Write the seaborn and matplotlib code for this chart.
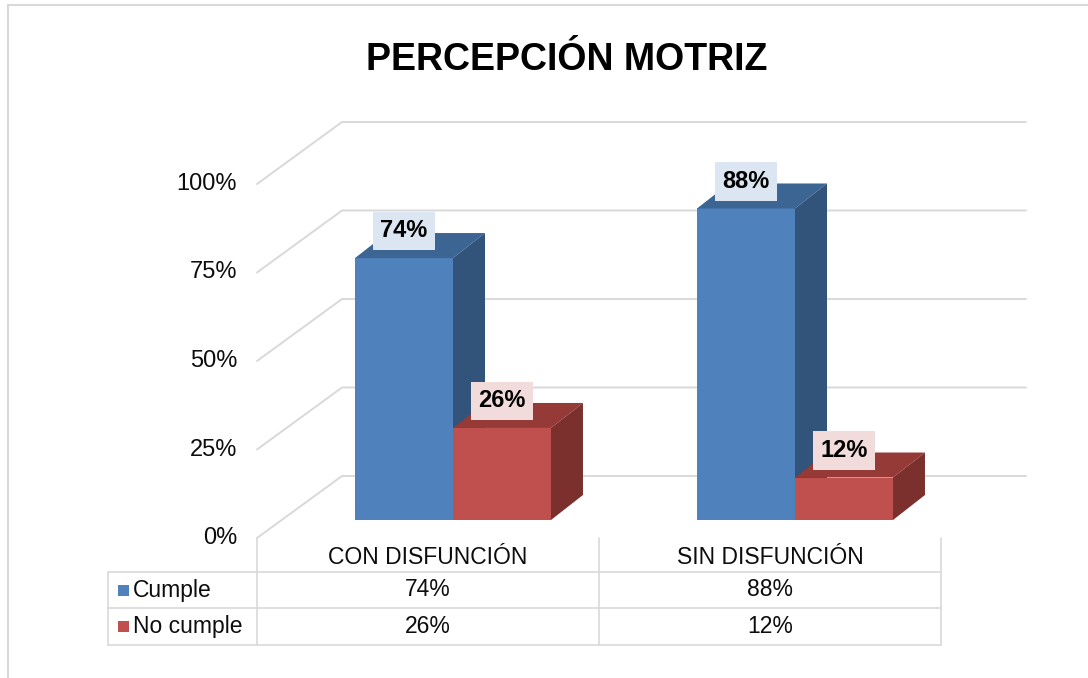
import matplotlib
matplotlib.use("Agg")
import pandas as pd
import matplotlib.pyplot as plt
from matplotlib.patches import Polygon, Rectangle
from matplotlib.lines import Line2D
import seaborn as sns

# -----------------------------
# Datos
# -----------------------------
grupos = ["CON DISFUNCIÓN", "SIN DISFUNCIÓN"]
series = ["Cumple", "No cumple"]
cumple = [74, 88]
no_cumple = [26, 12]
ticks_y = [0, 25, 50, 75, 100]

colores = ["#4f81bd", "#c0504d"]
colores_top = ["#3c6594", "#953a37"]
colores_lado = ["#32537a", "#7b302e"]
fondo_etiqueta = ["#dce6f2", "#f2dcdb"]
gris = "#d9d9d9"
texto = "#0d0d0d"

sns.set_theme(style="white")
plt.rcParams["font.family"] = ["Liberation Sans", "DejaVu Sans"]

df = pd.DataFrame({
    "grupo": grupos * 2,
    "serie": [series[0]] * len(grupos) + [series[1]] * len(grupos),
    "valor": cumple + no_cumple,
})

# -----------------------------
# Figura y escala (pixeles)
# -----------------------------
W, H = 1088, 678
fig = plt.figure(figsize=(W / 100, H / 100), dpi=100)
fig.patch.set_facecolor("white")


def fx(px):
    return px / W


def fy(py):
    return 1 - py / H


ax = fig.add_axes([fx(100), fy(545), 940 / W, 435 / H])

PX_X = 342.0   # px por unidad de categoria
PX_Y = 3.54    # px por punto porcentual
X0, Y0 = 453, 520  # categoria 0 y 0% en el plano frontal de las barras

# desplazamientos de profundidad (en unidades de datos)
FRONT = (-25 / PX_X, -18 / PX_Y)
BACK = (60 / PX_X, 44 / PX_Y)
DEPTH = (32 / PX_X, 25 / PX_Y)

sns.barplot(data=df, x="grupo", y="valor", hue="serie", palette=colores,
            saturation=1, width=0.573, dodge=True, ax=ax, legend=False,
            linewidth=0)

# caras superior y lateral (efecto 3D)
n_hue = len(ax.containers)
for j, cont in enumerate(ax.containers):
    for k, bar in enumerate(cont):
        x, w, h = bar.get_x(), bar.get_width(), bar.get_height()
        dx, dy = DEPTH
        z = 2 + k * n_hue + j
        bar.set_zorder(z)
        top = Polygon([(x, h), (x + w, h), (x + w + dx, h + dy), (x + dx, h + dy)],
                      closed=True, fc=colores_top[j], ec="none", zorder=z)
        side = Polygon([(x + w, 0), (x + w + dx, dy), (x + w + dx, h + dy), (x + w, h)],
                       closed=True, fc=colores_lado[j], ec="none", zorder=z)
        ax.add_patch(top)
        ax.add_patch(side)
        ax.annotate(f"{h:.0f}%", (x + w / 2, h), xytext=(0, 19.5),
                    textcoords="offset points", ha="center", va="center",
                    fontsize=17, fontweight="bold", color="black", zorder=20,
                    bbox=dict(boxstyle="square,pad=0.33", fc=fondo_etiqueta[j], ec="none"))

# lineas de cuadricula en la pared trasera
for v in ticks_y:
    xs = [-0.5 + FRONT[0], -0.5 + BACK[0], 1.5 + BACK[0]]
    ys = [v + FRONT[1], v + BACK[1], v + BACK[1]]
    ax.plot(xs, ys, color=gris, lw=1.4, zorder=1)
    ax.text(-0.5 + FRONT[0] - 20 / PX_X, v + FRONT[1], f"{v}%",
            ha="right", va="center", fontsize=17, color=texto)

ax.set_xlim((100 - X0) / PX_X, (1040 - X0) / PX_X)
ax.set_ylim((Y0 - 545) / PX_Y, (Y0 - 110) / PX_Y)
ax.set_axis_off()

# -----------------------------
# Titulo
# -----------------------------
fig.text(fx(567), fy(60), "PERCEPCIÓN MOTRIZ", ha="center", va="center",
         fontsize=27, fontweight="bold", color="black")

# -----------------------------
# Tabla de datos
# -----------------------------
col_x = [X0 + (i - 0.5) * PX_X - 25 for i in range(len(grupos) + 1)]
t_top, t_rows, t_left = 538, [572, 608, 645], 108


def linea(x1, y1, x2, y2):
    fig.add_artist(Line2D([fx(x1), fx(x2)], [fy(y1), fy(y2)], color=gris, lw=1.2))


for cx in col_x:
    linea(cx, t_top, cx, t_rows[-1])
linea(t_left, t_rows[0], t_left, t_rows[-1])
for ry in t_rows:
    linea(t_left, ry, col_x[-1], ry)

for i, g in enumerate(grupos):
    fig.text(fx((col_x[i] + col_x[i + 1]) / 2), fy(558), g, ha="center", va="center",
             fontsize=16.5, color=texto)

valores = [cumple, no_cumple]
for r, s in enumerate(series):
    yc = (t_rows[r] + t_rows[r + 1]) / 2
    fig.add_artist(Rectangle((fx(118), fy(yc + 5.5)), 11 / W, 11 / H,
                             transform=fig.transFigure, fc=colores[r], ec="none"))
    fig.text(fx(133), fy(yc), s, ha="left", va="center", fontsize=16.5, color=texto)
    for i in range(len(grupos)):
        fig.text(fx((col_x[i] + col_x[i + 1]) / 2), fy(yc), f"{valores[r][i]}%",
                 ha="center", va="center", fontsize=16.5, color=texto)

# borde exterior del grafico
fig.add_artist(Rectangle((fx(8), fy(700)), 1.2, (700 - 5) / H,
                         transform=fig.transFigure, fill=False, ec=gris, lw=1.5))

fig.savefig("out.png", dpi=100)
